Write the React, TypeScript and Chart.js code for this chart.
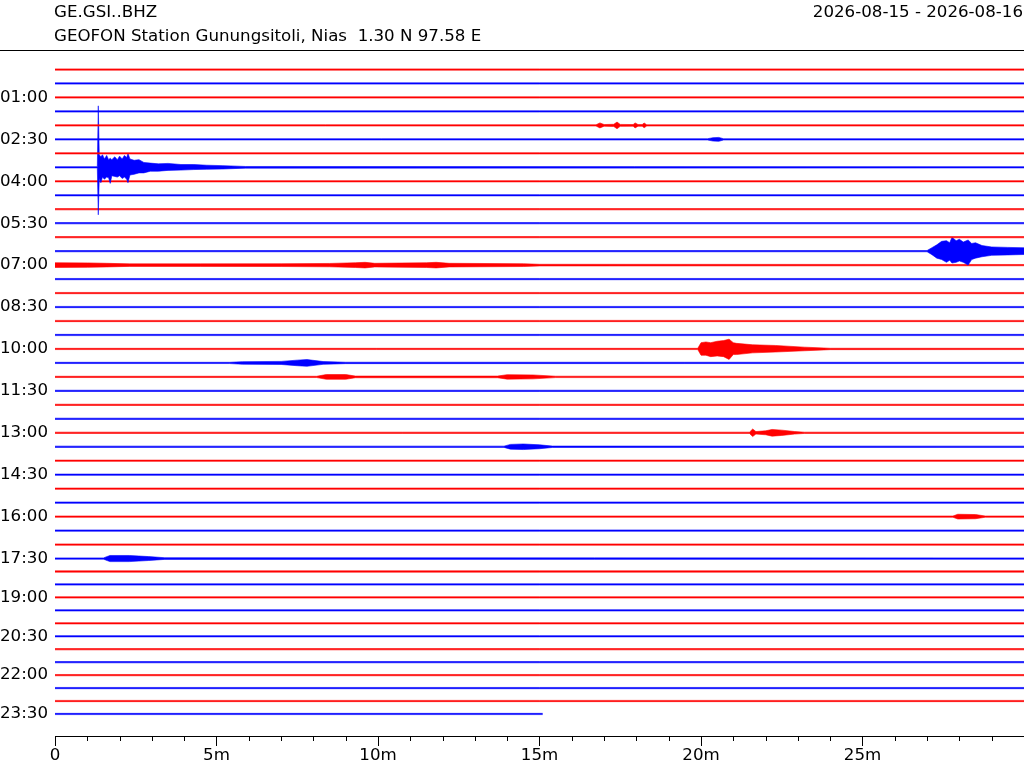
import { useEffect, useRef } from 'react';
import { Chart, registerables } from 'chart.js';

Chart.register(...registerables);

// ---- text ----
const stationCode = 'GE.GSI..BHZ';
const stationName = 'GEOFON Station Gunungsitoli, Nias  1.30 N 97.58 E';
const dateRange = '2026-08-15 - 2026-08-16';

// ---- traces (one line per 30 minutes) ----
const traceCount = 48;
const traceColors = ['#ff0000', '#0000ff'];
const fullTraceMinutes = 30;
const lastTraceMinutes = 15.1;
const noiseAmp = 0.045; // in trace-spacing units
// the later rows of the plot sit a little closer together
const spacingChangeRow = 35;
const lateRowSpacing = 0.927;

// ---- y tick labels ----
const rowLabelIndex = [2, 5, 8, 11, 14, 17, 20, 23, 26, 29, 32, 35, 38, 41, 44, 47];
const rowLabels = ['01:00', '02:30', '04:00', '05:30', '07:00', '08:30', '10:00', '11:30', '13:00', '14:30', '16:00', '17:30', '19:00', '20:30', '22:00', '23:30'];

// ---- x tick labels ----
const xMajorTicks = [0, 5, 10, 15, 20, 25];
const xMajorLabels = ['0', '5m', '10m', '15m', '20m', '25m'];

// ---- event envelopes: [minute, up, down] in trace-spacing units ----
const burst0200 = [[16.75, 0.045], [16.87, 0.18], [17.0, 0.06], [17.3, 0.08], [17.4, 0.24], [17.5, 0.07], [17.9, 0.06], [17.96, 0.18], [18.05, 0.06], [18.18, 0.06], [18.24, 0.17], [18.32, 0.045]];
const burst0230 = [[20.2, 0.045], [20.37, 0.12], [20.55, 0.14], [20.7, 0.045]];
const quake0330 = [[1.31, 0.045], [1.34, 4.4, 3.4], [1.37, 0.9, 0.8], [1.42, 0.75, 1.1], [1.47, 0.9, 0.7], [1.53, 0.6, 0.85], [1.6, 0.85, 0.7], [1.66, 0.55, 0.75], [1.71, 0.65, 1.15], [1.76, 0.55, 0.6], [1.85, 0.75, 0.65], [1.93, 0.55, 0.7], [2.0, 0.8, 0.6], [2.08, 0.6, 0.8], [2.15, 0.85, 0.7], [2.22, 0.7, 0.85], [2.26, 1.0, 1.1], [2.32, 0.6, 0.55], [2.45, 0.5, 0.5], [2.6, 0.55, 0.4], [2.75, 0.35, 0.4], [2.95, 0.3, 0.28], [3.2, 0.25, 0.28], [3.5, 0.28, 0.22], [3.9, 0.2, 0.2], [4.3, 0.2, 0.16], [4.7, 0.15, 0.14], [5.2, 0.12, 0.12], [5.9, 0.06, 0.06]];
const quake0630 = [[27.0, 0.045], [27.15, 0.25], [27.3, 0.45, 0.5], [27.45, 0.7, 0.6], [27.6, 0.75, 0.8], [27.7, 0.6, 0.65], [27.77, 1.0, 0.85], [27.9, 0.75, 0.8], [28.0, 0.85, 0.7], [28.12, 0.65, 0.8], [28.27, 0.8, 1.0], [28.38, 0.55, 0.6], [28.5, 0.6, 0.5], [28.7, 0.4, 0.4], [29.0, 0.3, 0.3], [29.5, 0.27, 0.27], [30.0, 0.24, 0.24]];
const waves0700 = [[0, 0.17], [1.0, 0.16], [1.6, 0.13], [2.3, 0.09], [4.5, 0.09], [7.0, 0.1], [8.5, 0.12], [9.3, 0.17], [9.6, 0.2], [9.9, 0.13], [11.5, 0.17], [11.8, 0.2], [12.2, 0.13], [14.5, 0.1], [15.0, 0.06]];
const quake1000 = [[19.9, 0.045], [20.0, 0.45], [20.15, 0.5, 0.45], [20.3, 0.45, 0.55], [20.5, 0.55, 0.5], [20.7, 0.6, 0.55], [20.87, 0.7, 0.75], [21.0, 0.45, 0.4], [21.1, 0.4, 0.4], [21.6, 0.3, 0.28], [22.3, 0.25, 0.22], [23.2, 0.13, 0.13], [24.0, 0.05, 0.05]];
const waves1030 = [[5.4, 0.045], [5.8, 0.09], [7.0, 0.11], [7.5, 0.2], [7.8, 0.24], [8.3, 0.1], [9.0, 0.05]];
const noise1100 = [[8.1, 0.045], [8.4, 0.17], [9.0, 0.17], [9.3, 0.06], [13.7, 0.06], [14.0, 0.16], [14.8, 0.14], [15.5, 0.05]];
const burst1300 = [[21.5, 0.045], [21.6, 0.27], [21.7, 0.09], [22.0, 0.14], [22.2, 0.24], [22.5, 0.19], [22.9, 0.09], [23.2, 0.045]];
const burst1330 = [[13.9, 0.045], [14.1, 0.17], [14.5, 0.2], [15.0, 0.14], [15.4, 0.05]];
const burst1600 = [[27.8, 0.045], [27.95, 0.17], [28.5, 0.15], [28.8, 0.045]];
const burst1730 = [[1.5, 0.045], [1.7, 0.22], [2.3, 0.22], [2.9, 0.14], [3.4, 0.06]];

const eventRows = [4, 5, 7, 13, 14, 20, 21, 22, 26, 27, 32, 35];
const eventEnvelopes = [burst0200, burst0230, quake0330, quake0630, waves0700, quake1000, waves1030, noise1100, burst1300, burst1330, burst1600, burst1730];

const FONT = '"DejaVu Sans", sans-serif';
const FONT_SIZE = 16.67;

function rowOffset(row: number): number {
  return row <= spacingChangeRow ? row : spacingChangeRow + (row - spacingChangeRow) * lateRowSpacing;
}

function envelopeFor(row: number): number[][] {
  const end = row === traceCount - 1 ? lastTraceMinutes : fullTraceMinutes;
  const k = eventRows.indexOf(row);
  const ev = k >= 0 ? eventEnvelopes[k] : [];
  const pts: number[][] = [];
  if (!ev.length || ev[0][0] > 0) pts.push([0, noiseAmp, noiseAmp]);
  ev.forEach((p) => pts.push([p[0], p[1], p.length > 2 ? p[2] : p[1]]));
  if (!ev.length || ev[ev.length - 1][0] < end) pts.push([end, noiseAmp, noiseAmp]);
  return pts.filter((p) => p[0] <= end);
}

const decorPlugin = {
  id: 'decor',
  afterDraw(chart: any) {
    const ctx = chart.ctx as CanvasRenderingContext2D;
    const xs = chart.scales.x;
    const area = chart.chartArea;
    ctx.save();
    ctx.fillStyle = '#000';
    ctx.font = `${FONT_SIZE}px ${FONT}`;
    ctx.textBaseline = 'alphabetic';
    ctx.textAlign = 'left';
    ctx.fillText(stationCode, 54, 16.7);
    ctx.fillText(stationName, 54, 41.3);
    ctx.textAlign = 'right';
    ctx.fillText(dateRange, 1023, 16.7);
    ctx.fillRect(0, 50, chart.width, 1);
    ctx.strokeStyle = '#000';
    ctx.lineWidth = 1;
    for (let m = 1; m < fullTraceMinutes; m++) {
      if (xMajorTicks.includes(m)) continue;
      const px = Math.round(xs.getPixelForValue(m)) + 0.5;
      ctx.beginPath();
      ctx.moveTo(px, area.bottom);
      ctx.lineTo(px, area.bottom + 5);
      ctx.stroke();
    }
    ctx.restore();
  },
};

export default function App() {
  const ref = useRef<HTMLCanvasElement>(null);

  useEffect(() => {
    document.body.style.margin = '0';
    const canvas = ref.current;
    if (!canvas) return;

    const datasets: any[] = [];
    for (let row = 0; row < traceCount; row++) {
      const env = envelopeFor(row);
      const color = traceColors[row % 2];
      const base = rowOffset(row);
      datasets.push({
        data: env.map((p) => ({ x: p[0], y: base - p[1] })),
        borderColor: color,
        backgroundColor: color,
        borderWidth: 0.6,
        pointRadius: 0,
        tension: 0,
        fill: '+1',
      });
      datasets.push({
        data: env.map((p) => ({ x: p[0], y: base + p[2] })),
        borderColor: color,
        backgroundColor: color,
        borderWidth: 0.6,
        pointRadius: 0,
        tension: 0,
        fill: false,
      });
    }

    const chart = new Chart(canvas, {
      type: 'line',
      data: { datasets },
      options: {
        animation: false,
        responsive: false,
        events: [],
        layout: { padding: { top: 50, left: 0, right: 0, bottom: 0 } },
        plugins: {
          legend: { display: false },
          tooltip: { enabled: false },
          title: { display: false },
        },
        scales: {
          x: {
            type: 'linear',
            min: 0,
            max: fullTraceMinutes,
            afterBuildTicks: (scale: any) => {
              const t: any[] = [];
              for (let m = 0; m <= fullTraceMinutes; m++) t.push({ value: m });
              scale.ticks = t;
            },
            afterFit: (scale: any) => {
              scale.height = 32;
            },
            ticks: {
              autoSkip: false,
              maxRotation: 0,
              minRotation: 0,
              padding: 0,
              color: '#000',
              font: { family: FONT, size: FONT_SIZE },
              callback: (v: any) => {
                const k = xMajorTicks.indexOf(Number(v));
                return k >= 0 ? xMajorLabels[k] : '';
              },
            },
            grid: {
              drawOnChartArea: false,
              drawTicks: true,
              tickLength: 10,
              tickWidth: 1,
              tickColor: (c: any) => (c.tick && xMajorTicks.includes(c.tick.value) ? '#000' : 'rgba(0,0,0,0)'),
            },
            border: { display: true, color: '#000', width: 1 },
          },
          y: {
            type: 'linear',
            reverse: true,
            min: -1.396,
            max: 47.7,
            afterBuildTicks: (scale: any) => {
              scale.ticks = rowLabelIndex.map((r) => ({ value: rowOffset(r) }));
            },
            afterFit: (scale: any) => {
              scale.width = 55;
            },
            ticks: {
              autoSkip: false,
              padding: 7,
              color: '#000',
              font: { family: FONT, size: FONT_SIZE },
              callback: (_v: any, i: number) => rowLabels[i] ?? '',
            },
            grid: { display: false, drawTicks: false, drawOnChartArea: false },
            border: { display: false },
          },
        },
      },
      plugins: [decorPlugin],
    });

    return () => chart.destroy();
  }, []);

  return (
    <div style={{ width: 1024, height: 768, position: 'relative', background: '#fff' }}>
      <canvas ref={ref} width={1024} height={768} style={{ display: 'block' }} />
    </div>
  );
}
